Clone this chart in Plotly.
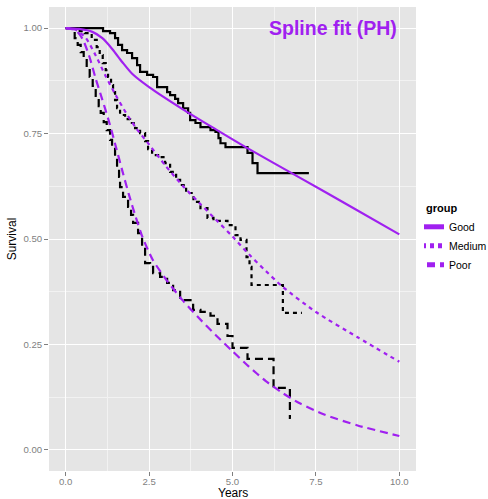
import plotly.graph_objects as go

# ---- Kaplan-Meier estimates (step functions) ----
good_km_t = [0, 1.12, 1.33, 1.48, 1.57, 1.69, 1.84, 1.99, 2.14, 2.23, 2.44, 2.62, 2.74,
             3.04, 3.13, 3.28, 3.37, 3.52, 3.67, 3.73, 3.89, 4.04, 4.34, 4.49, 4.58,
             4.64, 4.79, 5.45, 5.60, 5.75, 7.29]
good_km_s = [1.0, 0.993, 0.988, 0.976, 0.960, 0.948, 0.941, 0.929, 0.912, 0.896, 0.889,
             0.884, 0.860, 0.848, 0.841, 0.832, 0.822, 0.810, 0.799, 0.782, 0.775, 0.765,
             0.758, 0.754, 0.739, 0.727, 0.718, 0.704, 0.680, 0.656, 0.656]

medium_km_t = [0, 0.42, 0.57, 0.78, 0.93, 1.02, 1.11, 1.20, 1.27, 1.36, 1.42, 1.48, 1.54,
               1.63, 1.78, 1.93, 2.08, 2.23, 2.38, 2.47, 2.59, 2.77, 2.98, 3.13, 3.31,
               3.43, 3.61, 3.83, 4.04, 4.25, 4.43, 4.85, 5.09, 5.24, 5.42, 5.51, 5.57,
               6.51, 7.08]
medium_km_s = [1.0, 0.993, 0.988, 0.972, 0.955, 0.936, 0.917, 0.900, 0.884, 0.865, 0.848,
               0.829, 0.810, 0.794, 0.784, 0.775, 0.763, 0.751, 0.732, 0.713, 0.699, 0.694,
               0.680, 0.659, 0.640, 0.628, 0.609, 0.588, 0.573, 0.550, 0.543, 0.533, 0.509,
               0.498, 0.457, 0.434, 0.391, 0.325, 0.325]

poor_km_t = [0, 0.18, 0.27, 0.36, 0.45, 0.54, 0.63, 0.72, 0.81, 0.90, 0.99, 1.05, 1.14,
             1.23, 1.33, 1.39, 1.48, 1.54, 1.60, 1.63, 1.72, 1.87, 1.96, 2.02, 2.17,
             2.29, 2.38, 2.53, 2.62, 2.83, 3.04, 3.22, 3.43, 3.82, 4.04, 4.34, 4.55,
             4.85, 5.00, 5.45, 6.23, 6.72, 6.75]
poor_km_s = [1.0, 0.991, 0.976, 0.960, 0.943, 0.924, 0.905, 0.884, 0.863, 0.839, 0.815,
             0.799, 0.777, 0.758, 0.735, 0.718, 0.694, 0.671, 0.647, 0.623, 0.600, 0.576,
             0.557, 0.538, 0.514, 0.481, 0.443, 0.434, 0.419, 0.410, 0.396, 0.379, 0.355,
             0.332, 0.327, 0.318, 0.299, 0.270, 0.242, 0.216, 0.147, 0.076, 0.076]

# ---- Spline fit (PH) survival curves ----
good_fit_t = [0, 0.4, 0.8, 1.1, 1.4, 1.7, 2.0, 2.5, 3.5, 4.5, 5.5, 7.0, 8.5, 10.0]
good_fit_s = [1.0, 0.998, 0.991, 0.976, 0.950, 0.919, 0.891, 0.860, 0.808, 0.760, 0.713,
              0.646, 0.579, 0.511]

medium_fit_t = [0, 0.3, 0.6, 0.9, 1.2, 1.5, 1.8, 2.1, 2.5, 3.0, 3.5, 4.0, 4.5, 5.0, 5.5,
                6.0, 6.5, 7.5, 8.75, 10.0]
medium_fit_s = [1.0, 0.996, 0.977, 0.935, 0.886, 0.841, 0.800, 0.764, 0.724, 0.673, 0.627,
                0.586, 0.546, 0.506, 0.463, 0.424, 0.387, 0.327, 0.267, 0.209]

poor_fit_t = [0, 0.3, 0.5, 0.7, 0.9, 1.1, 1.3, 1.5, 1.7, 1.9, 2.1, 2.3, 2.6, 3.0, 3.5,
              4.0, 4.5, 5.0, 5.5, 6.0, 6.5, 7.0, 7.75, 8.75, 10.0]
poor_fit_s = [1.0, 0.995, 0.975, 0.935, 0.880, 0.830, 0.778, 0.720, 0.661, 0.604, 0.552,
              0.505, 0.452, 0.405, 0.355, 0.312, 0.272, 0.234, 0.197, 0.163, 0.135, 0.111,
              0.084, 0.058, 0.033]

groups = ["Good", "Medium", "Poor"]
x_ticks = [0, 2.5, 5, 7.5, 10]
y_ticks = [0, 0.25, 0.5, 0.75, 1.0]
title_text = "Spline fit (PH)"
x_title = "Years"
y_title = "Survival"

PURPLE = "#A020F0"
FONT = "Liberation Sans, Arial, Helvetica, sans-serif"
dashes = {"Good": "solid", "Medium": "4px,4px", "Poor": "8px,5px"}

km = {"Good": (good_km_t, good_km_s), "Medium": (medium_km_t, medium_km_s),
      "Poor": (poor_km_t, poor_km_s)}
fits = {"Good": (good_fit_t, good_fit_s), "Medium": (medium_fit_t, medium_fit_s),
        "Poor": (poor_fit_t, poor_fit_s)}

fig = go.Figure()
for g in groups:
    t, s = km[g]
    fig.add_trace(go.Scatter(x=t, y=s, mode="lines", showlegend=False, hoverinfo="skip",
                             line=dict(color="black", width=2.2, dash=dashes[g], shape="hv")))
for g in groups:
    t, s = fits[g]
    fig.add_trace(go.Scatter(x=t, y=s, mode="lines", name=g,
                             line=dict(color=PURPLE, width=2.2, dash=dashes[g],
                                       shape="spline", smoothing=0.7)))

fig.add_annotation(x=8.0, y=1.0, xref="x", yref="y", text="<b>" + title_text + "</b>",
                   showarrow=False,
                   font=dict(family=FONT, size=19.5, color=PURPLE),
                   xanchor="center", yanchor="middle")

# x-axis title placed just below the tick labels (as in the reference)
fig.add_annotation(x=0.5, y=-(493 - 471) / 464, xref="paper", yref="paper", text=x_title,
                   showarrow=False, borderpad=0,
                   font=dict(family=FONT, size=12, color="black"),
                   xanchor="center", yanchor="middle")

axis_common = dict(showgrid=True, gridcolor="white", gridwidth=1.1, zeroline=False,
                   ticks="outside", ticklen=4, tickcolor="#7F7F7F", tickwidth=1,
                   showline=False,
                   tickfont=dict(family=FONT, size=9.6, color="#7F7F7F"),
                   title_font=dict(family=FONT, size=12, color="black"))

fig.update_xaxes(range=[-0.5, 10.5], tickvals=x_ticks, tickformat=".1f",
                 ticklabelstandoff=-3,
                 minor=dict(tickvals=[1.25, 3.75, 6.25, 8.75], showgrid=True,
                            gridcolor="#F2F2F2", gridwidth=0.6, ticks=""),
                 **axis_common)
fig.update_yaxes(range=[-0.05, 1.05], tickvals=y_ticks, tickformat=".2f",
                 title_text=y_title, title_standoff=4,
                 minor=dict(tickvals=[0.125, 0.375, 0.625, 0.875], showgrid=True,
                            gridcolor="#F2F2F2", gridwidth=0.6, ticks=""),
                 **axis_common)

fig.update_layout(
    width=488, height=499,
    margin=dict(l=49, r=72, t=7, b=28, autoexpand=False),
    plot_bgcolor="#E5E5E5", paper_bgcolor="white",
    font=dict(family=FONT, color="black"),
    legend=dict(x=(424 - 49) / 367, xanchor="left", y=0.5884, yanchor="top",
                indentation=-15,
                bgcolor="rgba(0,0,0,0)", tracegroupgap=0, itemsizing="constant",
                title=dict(text="<b>group</b>", font=dict(size=11)),
                font=dict(size=10.5, color="black")),
)

fig.write_html("out.html", config={"displayModeBar": False},
               post_script="document.body.style.margin='0';")
